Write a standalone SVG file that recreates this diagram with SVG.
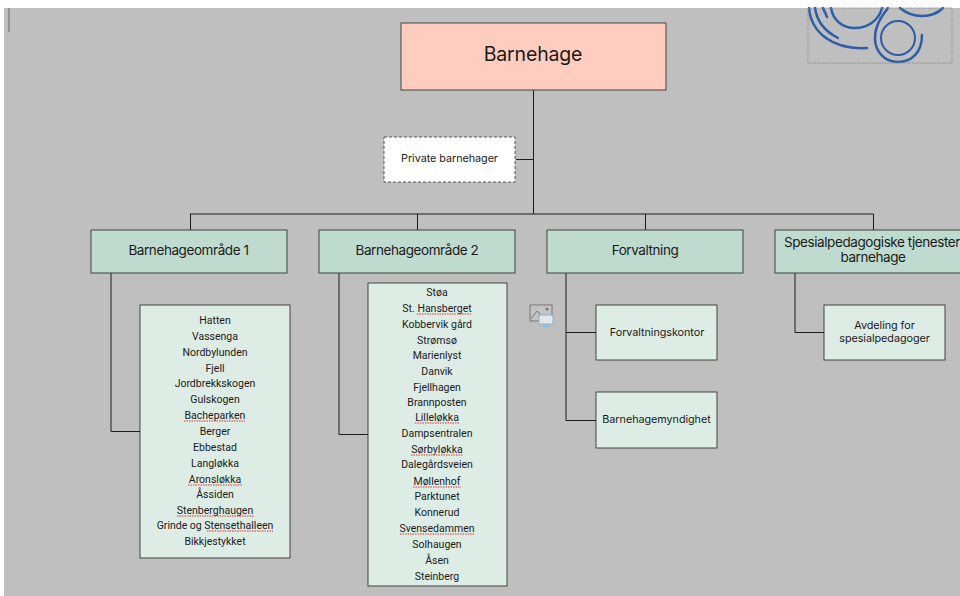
<svg xmlns="http://www.w3.org/2000/svg" width="960" height="596" viewBox="0 0 960 596">
<style>
text{font-family:Inter,"Liberation Sans",sans-serif;fill:#1a1a1a;text-anchor:middle}
.c{fill:none;stroke:#1c1c1c;stroke-width:1}
.g{fill:#bfdbcf;stroke:#222;stroke-width:.8}
.l{fill:#deece6;stroke:#222;stroke-width:.8}
.h{font-size:13.500px;letter-spacing:-.42px}
.s{font-size:10.800px;letter-spacing:-.05px}
.i{font-family:Roboto,"Liberation Sans",sans-serif;font-size:10.500px}
.w{fill:none;stroke:#e0302a;stroke-width:1;stroke-dasharray:1.5 1}
.a{fill:none;stroke:#2f5da6;stroke-width:2.500;stroke-linecap:round}
</style>
<rect width="960" height="596" fill="#fff"/>
<rect x="4" y="8" width="956" height="588" fill="#bfbfbf"/>
<line x1="9" y1="8" x2="9" y2="32" stroke="#808080" stroke-width="1.500"/>
<g id="logo">
<path class="a" d="M809 8C811 32 832 50 867 48"/>
<path class="a" d="M815 8C817 22 826 32 838 38"/>
<path class="a" d="M823 8L827 17"/>
<path class="a" d="M831 8C833 20 842 28 855 28C868 28 879 20 882 8"/>
<path class="a" d="M900 8C906 13 914 16 922 16C930 16 938 13 943 8"/>
<circle cx="898" cy="38" r="17" fill="none" stroke="#2f5da6" stroke-width="2"/>
<path class="a" d="M922 35C922 52 912 62 898 62C884 62 875 51 875 38C875 26 881 17 888 8"/>
<rect x="808" y="8" width="144" height="55" fill="none" stroke="#8c8c8c" stroke-dasharray="1.500 1"/>
</g>
<g id="connectors">
<path class="c" d="M533.500 90V214M516 159.500H533.500M190 214H873.500M190.500 214V230M417.500 214V230M645.500 214V230M873.500 214V230"/>
<path class="c" d="M111 273V431.500H140"/>
<path class="c" d="M339 273V434.500H368"/>
<path class="c" d="M566 273V420.500H596M566 332.500H596"/>
<path class="c" d="M795 273V332.500H824"/>
</g>
<g id="barnehage"><rect x="401" y="23" width="265" height="67" fill="#ffcdbf" stroke="#222" stroke-width=".8"/><text x="533" y="61" font-size="19.500" letter-spacing="-.15">Barnehage</text></g>
<g id="private"><rect x="384" y="137" width="131" height="45" fill="#fff" stroke="#333" stroke-width=".8" stroke-dasharray="3 2"/><text class="s" x="449.500" y="162">Private barnehager</text></g>
<g id="omrade1"><rect class="g" x="91" y="230" width="196" height="43"/><text class="h" x="188.500" y="255">Barnehageområde 1</text></g>
<g id="omrade2"><rect class="g" x="319" y="230" width="196" height="43"/><text class="h" x="417" y="255">Barnehageområde 2</text></g>
<g id="forvaltning"><rect class="g" x="547" y="230" width="196" height="43"/><text class="h" x="645" y="255">Forvaltning</text></g>
<g id="spesial"><rect class="g" x="775" y="230" width="196" height="43"/><text class="h" x="872" y="247">Spesialpedagogiske tjenester</text><text class="h" x="873" y="262">barnehage</text></g>
<g id="liste1"><rect class="l" x="140" y="305" width="150" height="253"/>
<text class="i" x="215" y="324">Hatten</text>
<text class="i" x="215" y="340">Vassenga</text>
<text class="i" x="215" y="356">Nordbylunden</text>
<text class="i" x="215" y="372">Fjell</text>
<text class="i" x="215" y="387">Jordbrekkskogen</text>
<text class="i" x="215" y="403">Gulskogen</text>
<text class="i" x="215" y="419">Bacheparken</text>
<text class="i" x="215" y="435">Berger</text>
<text class="i" x="215" y="451">Ebbestad</text>
<text class="i" x="215" y="467">Langløkka</text>
<text class="i" x="215" y="483">Aronsløkka</text>
<text class="i" x="215" y="498">Åssiden</text>
<text class="i" x="215" y="514">Stenberghaugen</text>
<text class="i" x="215" y="529">Grinde og Stensethalleen</text>
<text class="i" x="215" y="545">Bikkjestykket</text>
<path class="w" d="M184 421H245M188 485H242M177 516H254M207 531H273"/>
</g>
<g id="liste2"><rect class="l" x="368" y="283" width="139" height="303"/>
<text class="i" x="437" y="296">Støa</text>
<text class="i" x="437" y="312">St. Hansberget</text>
<text class="i" x="437" y="328">Kobbervik gård</text>
<text class="i" x="437" y="344">Strømsø</text>
<text class="i" x="437" y="359">Marienlyst</text>
<text class="i" x="437" y="375">Danvik</text>
<text class="i" x="437" y="391">Fjellhagen</text>
<text class="i" x="437" y="406">Brannposten</text>
<text class="i" x="437" y="421">Lilleløkka</text>
<text class="i" x="437" y="437">Dampsentralen</text>
<text class="i" x="437" y="453">Sørbyløkka</text>
<text class="i" x="437" y="468">Dalegårdsveien</text>
<text class="i" x="437" y="485">Møllenhof</text>
<text class="i" x="437" y="500">Parktunet</text>
<text class="i" x="437" y="516">Konnerud</text>
<text class="i" x="437" y="532">Svensedammen</text>
<text class="i" x="437" y="548">Solhaugen</text>
<text class="i" x="437" y="564">Åsen</text>
<text class="i" x="437" y="580">Steinberg</text>
<path class="w" d="M417 314H472M415 423H460M411 455H463M413 487H461M400 534H475"/>
</g>
<g id="placeholder">
<rect x="530" y="305" width="22" height="16" fill="#c4c4c4" stroke="#777"/>
<path d="M531 319L537 311L542 316" fill="none" stroke="#777"/><circle cx="547" cy="309" r="1.500" fill="#777"/>
<rect x="539" y="315" width="14" height="9" fill="#e6e6e6" stroke="#7ab4de"/>
<path d="M546 324V326M542.500 326.500H549.500" stroke="#7ab4de"/>
</g>
<g id="forvaltningskontor"><rect class="l" x="596" y="305" width="121" height="55"/><text class="s" x="657" y="336">Forvaltningskontor</text></g>
<g id="myndighet"><rect class="l" x="596" y="392" width="121" height="56"/><text class="s" x="656.500" y="423">Barnehagemyndighet</text></g>
<g id="avdeling"><rect class="l" x="824" y="305" width="121" height="55"/><text class="s" x="884.500" y="329">Avdeling for</text><text class="s" x="884.500" y="342">spesialpedagoger</text></g>
</svg>
